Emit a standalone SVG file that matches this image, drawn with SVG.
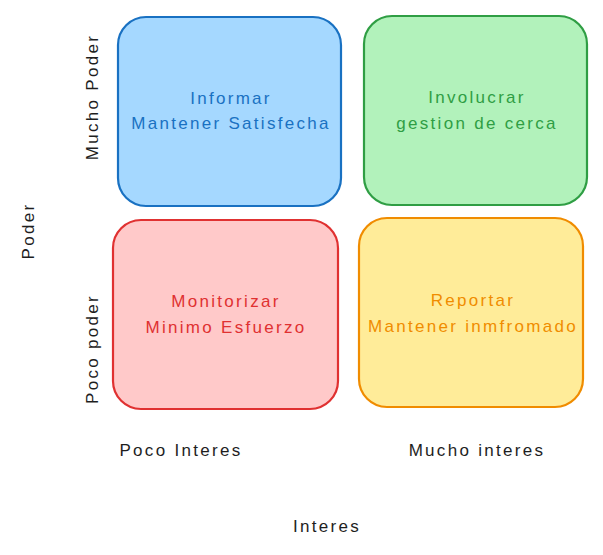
<svg xmlns="http://www.w3.org/2000/svg" width="603" height="555" viewBox="0 0 603 555">
<style>
text{font-family:"Liberation Sans","DejaVu Sans",sans-serif;font-size:17px;letter-spacing:2.3px;text-anchor:middle}
.box{stroke-width:2.2;stroke-linejoin:round}
.lbl{fill:#1e1e1e}
</style>
<rect width="603" height="555" fill="#ffffff"/>
<g id="informar">
<rect class="box" x="118" y="17" width="223" height="189" rx="28" fill="#a5d8ff" stroke="#1971c2"/>
<text x="231" y="104" fill="#1971c2">Informar</text>
<text x="231" y="129" fill="#1971c2">Mantener Satisfecha</text>
</g>
<g id="involucrar">
<rect class="box" x="364" y="16" width="223" height="189" rx="28" fill="#b2f2bb" stroke="#2f9e44"/>
<text x="477" y="103" fill="#2f9e44">Involucrar</text>
<text x="477" y="129" fill="#2f9e44">gestion de cerca</text>
</g>
<g id="monitorizar">
<rect class="box" x="113" y="220" width="225" height="189" rx="28" fill="#ffc9c9" stroke="#e03131"/>
<text x="226" y="307" fill="#e03131">Monitorizar</text>
<text x="226" y="333" fill="#e03131">Minimo Esfuerzo</text>
</g>
<g id="reportar">
<rect class="box" x="359" y="218" width="224" height="189" rx="28" fill="#ffec99" stroke="#f08c00"/>
<text x="473" y="306" fill="#f08c00">Reportar</text>
<text x="473" y="332" fill="#f08c00">Mantener inmfromado</text>
</g>
<g id="ejes">
<text class="lbl" transform="translate(98 97) rotate(-90)">Mucho Poder</text>
<text class="lbl" transform="translate(34 231) rotate(-90)">Poder</text>
<text class="lbl" transform="translate(98 349) rotate(-90)">Poco poder</text>
<text class="lbl" x="181" y="456">Poco Interes</text>
<text class="lbl" x="477" y="456">Mucho interes</text>
<text class="lbl" x="327" y="532">Interes</text>
</g>
<g id="connectors"></g>
</svg>
